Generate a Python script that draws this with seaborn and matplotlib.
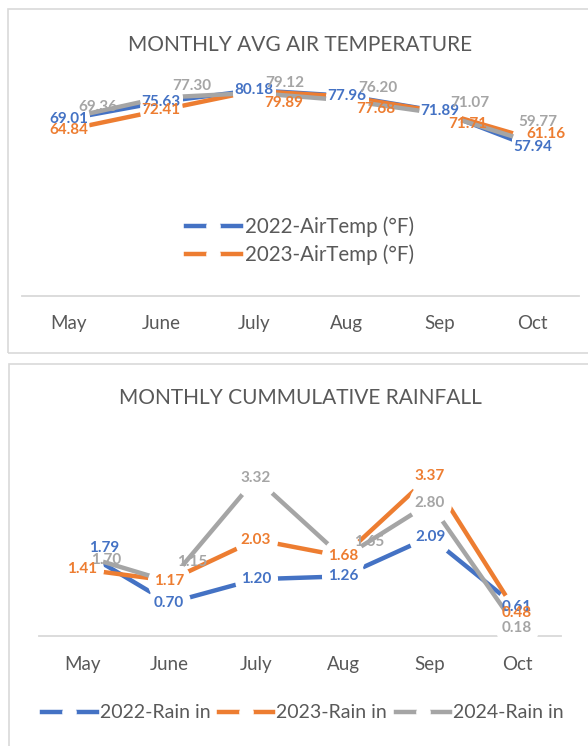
import matplotlib
matplotlib.use("Agg")
import matplotlib.pyplot as plt
from matplotlib.lines import Line2D
from matplotlib.patches import Rectangle
import seaborn as sns
import pandas as pd

# data
months = ["May", "June", "July", "Aug", "Sep", "Oct"]

temp_2022 = [69.01, 75.63, 80.18, 77.96, 71.89, 57.94]
temp_2023 = [64.84, 72.41, 79.89, 77.68, 71.71, 61.16]
temp_2024 = [69.36, 77.30, 79.12, 76.20, 71.07, 59.77]

rain_2022 = [1.79, 0.70, 1.20, 1.26, 2.09, 0.61]
rain_2023 = [1.41, 1.17, 2.03, 1.68, 3.37, 0.48]
rain_2024 = [1.70, 1.15, 3.32, 1.65, 2.80, 0.18]

temp_names = ["2022-AirTemp (°F)", "2023-AirTemp (°F)", "2024-AirTemp (°F)"]
rain_names = ["2022-Rain in", "2023-Rain in", "2024-Rain in"]

colors = ["#4472C4", "#ED7D31", "#A5A5A5"]
text_grey = "#595959"
border_grey = "#D9D9D9"

# data label nudges in pixels (x right, y up), one list per series
temp_offsets = [
    [(0, 0)] * 6,
    [(0, 0), (0, 0), (30, -12), (29, -12), (28, -12), (13, 5)],
    [(29, 11), (31, 12), (31, 10), (31, 12), (30, 11), (5, 21)],
]
rain_offsets = [
    [(22, 3), (0, 0), (0, 0), (0, 0), (0, 0), (0, 0)],
    [(0, 0)] * 6,
    [(24, -5), (23, 20), (0, 0), (26, 16), (0, 0), (0, 0)],
]

W, H = 588, 746
plt.rcParams['font.family'] = ['Lato', 'DejaVu Sans']

fig = plt.figure(figsize=(W / 100, H / 100), dpi=100)
fig.patch.set_facecolor("white")


def px_axes(left, top, right, bottom):
    return fig.add_axes([left / W, 1 - bottom / H, (right - left) / W, (bottom - top) / H])


def draw_chart(ax, series, names, offsets, ymax):
    frames = []
    for name, vals in zip(names, series):
        frames.append(pd.DataFrame({"month": months, "value": vals, "series": name}))
    df = pd.concat(frames, ignore_index=True)

    sns.lineplot(data=df, x="month", y="value", hue="series", palette=colors,
                 sort=False, lw=3.2, marker="o", markersize=31,
                 markerfacecolor="white", markeredgecolor="white",
                 markeredgewidth=0, legend=False, ax=ax)

    for vals, offs, c in zip(series, offsets, colors):
        for i, (v, off) in enumerate(zip(vals, offs)):
            ax.annotate(f"{v:.2f}", (i, v), xytext=off, textcoords="offset pixels",
                        ha="center", va="center", color=c, fontsize=11,
                        fontweight="bold", zorder=5)

    ax.set_xlim(-0.5, 5.5)
    ax.set_ylim(0, ymax)
    ax.set_yticks([])
    ax.set_xlabel("")
    ax.set_ylabel("")
    ax.set_facecolor("none")
    for s in ["left", "right", "top"]:
        ax.spines[s].set_visible(False)
    ax.spines["bottom"].set_color(border_grey)
    ax.spines["bottom"].set_linewidth(1.3)
    ax.spines["bottom"].set_zorder(0.5)
    ax.tick_params(axis="x", length=0, pad=14, labelsize=13.5, labelcolor=text_grey)


# panel borders
fig.add_artist(Rectangle((8 / W, 1 - 353 / H), 1.0, (353 - 9) / H, transform=fig.transFigure,
                         fill=False, edgecolor=border_grey, lw=1.2))
fig.add_artist(Rectangle((9 / W, -0.05), 1.0, 0.05 + (746 - 364) / H, transform=fig.transFigure,
                         fill=False, edgecolor=border_grey, lw=1.2))

# top chart
ax1 = px_axes(22, 65, 579, 296)
draw_chart(ax1, [temp_2022, temp_2023, temp_2024], temp_names, temp_offsets, 90)
fig.text(300 / W, 1 - 45 / H, "MONTHLY AVG AIR TEMPERATURE", ha="center", va="center",
         fontsize=15, color=text_grey)

handles = [Line2D([], [], color=c, lw=3.2, marker="o", markersize=9.5,
                  markerfacecolor="white", markeredgecolor="white") for c in colors]
fig.legend(handles[:2], temp_names[:2], loc="center", bbox_to_anchor=(300 / W, 1 - 241 / H),
           ncol=1, frameon=False, fontsize=14.8, labelcolor=text_grey,
           handlelength=2.7, handletextpad=0.2, labelspacing=0.35)

# bottom chart
ax2 = px_axes(38.5, 446, 560.5, 636.3)
draw_chart(ax2, [rain_2022, rain_2023, rain_2024], rain_names, rain_offsets, 4)
fig.text(300 / W, 1 - 398 / H, "MONTHLY CUMMULATIVE RAINFALL", ha="center", va="center",
         fontsize=15, color=text_grey)

fig.legend(handles, rain_names, loc="center", bbox_to_anchor=(303 / W, 1 - 713 / H),
           ncol=3, frameon=False, fontsize=14, labelcolor=text_grey,
           handlelength=2.8, handletextpad=0.15, columnspacing=0.45)

fig.savefig("out.png", dpi=100, facecolor="white")
